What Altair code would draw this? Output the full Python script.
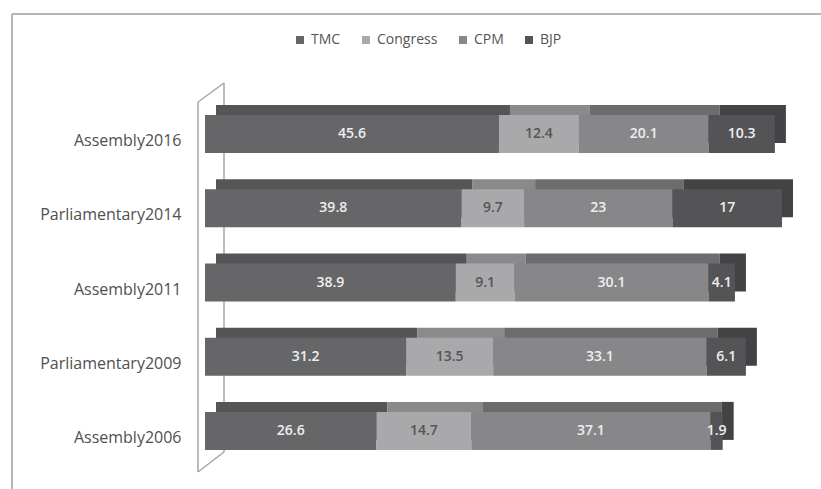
import altair as alt
import pandas as pd

elections = ["Assembly2016", "Parliamentary2014", "Assembly2011", "Parliamentary2009", "Assembly2006"]
parties = ["TMC", "Congress", "CPM", "BJP"]
tmc = [45.6, 39.8, 38.9, 31.2, 26.6]
congress = [12.4, 9.7, 9.1, 13.5, 14.7]
cpm = [20.1, 23, 30.1, 33.1, 37.1]
bjp = [10.3, 17, 4.1, 6.1, 1.9]

front_colors = ["#666669", "#a9a9ab", "#87878a", "#545457"]
back_colors = ["#555558", "#8a8a8c", "#6c6c6f", "#434346"]

series = {"TMC": tmc, "Congress": congress, "CPM": cpm, "BJP": bjp}
rows = []
for i, e in enumerate(elections):
    for j, p in enumerate(parties):
        rows.append({"election": e, "party": p, "order": j, "value": series[p][i]})
df = pd.DataFrame(rows)

FONT = "Open Sans"

base = alt.Chart(df).transform_stack(
    stack="value", groupby=["election"], sort=[alt.SortField("order")], as_=["x0", "x1"]
).transform_calculate(mid="(datum.x0 + datum.x1) / 2")

xscale = alt.Scale(domain=[0, 94], nice=False, zero=True)
yenc = alt.Y("election:N", sort=elections,
             axis=alt.Axis(title=None, ticks=False, domain=False, labelPadding=24,
                           labelOffset=7, labelFont=FONT, labelFontSize=16,
                           labelColor="#505050", grid=False),
             scale=alt.Scale(paddingInner=0.49, paddingOuter=0.245))

back = base.mark_bar(xOffset=11, x2Offset=11, yOffset=-10, y2Offset=-10, size=38).encode(
    x=alt.X("x0:Q", scale=xscale, axis=None),
    x2="x1:Q",
    y=yenc,
    color=alt.Color("party:N", scale=alt.Scale(domain=parties, range=back_colors), legend=None),
)

front = base.mark_bar(size=38).encode(
    x=alt.X("x0:Q", scale=xscale, axis=None),
    x2="x1:Q",
    y=yenc,
    fill=alt.Fill("party:N", scale=alt.Scale(domain=parties, range=front_colors),
                  sort=parties,
                  legend=alt.Legend(title=None, orient="none", direction="horizontal",
                                    legendX=88, legendY=-64, symbolType="square",
                                    symbolSize=64, labelFont=FONT, labelFontSize=14,
                                    labelColor="#555555", columnPadding=18,
                                    symbolStrokeWidth=0)),
)

text = base.mark_text(font=FONT, fontSize=14, fontWeight=600).encode(
    x=alt.X("mid:Q", scale=xscale, axis=None),
    y=yenc,
    text=alt.Text("value:Q"),
    color=alt.condition(alt.datum.party == "Congress", alt.value("#555555"), alt.value("#eeeeee")),
)

gray = "#a6a6a6"
wall = alt.Chart(pd.DataFrame({"k": [0]}))
wall_front = wall.mark_rule(color=gray, strokeWidth=1.5).encode(x=alt.value(-7), y=alt.value(5), y2=alt.value(375))
wall_back = wall.mark_rule(color=gray, strokeWidth=1.5).encode(x=alt.value(19), y=alt.value(-14), y2=alt.value(355))
wall_top = wall.mark_rule(color=gray, strokeWidth=1.5).encode(x=alt.value(-7), x2=alt.value(19), y=alt.value(5), y2=alt.value(-14))
wall_bot = wall.mark_rule(color=gray, strokeWidth=1.5).encode(x=alt.value(-7), x2=alt.value(19), y=alt.value(375), y2=alt.value(355))
frame_l = wall.mark_rule(color="#b5b5b5", strokeWidth=2).encode(x=alt.value(-193), y=alt.value(-83), y2=alt.value(400))
frame_t = wall.mark_rule(color="#b5b5b5", strokeWidth=2).encode(x=alt.value(-193), x2=alt.value(630), y=alt.value(-83))

chart = alt.layer(
    frame_l, frame_t, wall_front, wall_back, wall_top, wall_bot, back, front, text
).resolve_scale(color="independent").properties(
    width=606, height=371,
    autosize=alt.AutoSizeParams(type="none"),
    padding={"left": 205, "top": 97, "right": 10, "bottom": 21},
    background="white",
).configure_view(stroke=None)

chart.save("out.html", embed_options={"renderer": "svg", "actions": False})
